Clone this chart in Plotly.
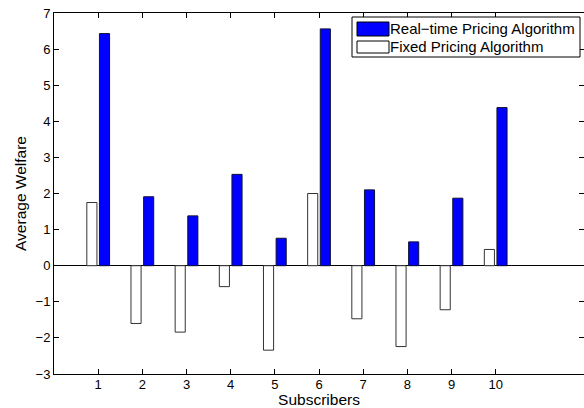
import plotly.graph_objects as go

subscribers = [1, 2, 3, 4, 5, 6, 7, 8, 9, 10]
realtime = [6.43, 1.91, 1.38, 2.53, 0.76, 6.56, 2.10, 0.66, 1.87, 4.38]
fixed = [1.75, -1.60, -1.84, -0.58, -2.34, 2.00, -1.47, -2.24, -1.22, 0.45]
series_names = ["Real\u2212time Pricing Algorithm", "Fixed Pricing Algorithm"]
x_ticks = [1, 2, 3, 4, 5, 6, 7, 8, 9, 10]
y_ticks = [-3, -2, -1, 0, 1, 2, 3, 4, 5, 6, 7]

font_family = "Liberation Sans, Arial, Helvetica, sans-serif"

fig = go.Figure()
fig.add_trace(go.Bar(
    x=subscribers, y=fixed, name=series_names[1],
    width=0.229, offset=-0.257,
    marker=dict(color="white", line=dict(color="#333333", width=1)),
    showlegend=False,
))
fig.add_trace(go.Bar(
    x=subscribers, y=realtime, name=series_names[0],
    width=0.229, offset=0.029,
    marker=dict(color="#0000ff", line=dict(color="#111133", width=1)),
    showlegend=False,
))

W, H = 584, 408
ML, MR, MT, MB = 54, 0, 13, 34
PW, PH = W - ML - MR, H - MT - MB
# paper coordinates are relative to the plot area
def px(x): return (x - ML) / PW
def py(y): return (H - MB - y) / PH

shapes = [
    dict(type="rect", xref="paper", yref="paper", x0=px(352), x1=px(580), y0=py(57), y1=py(17),
         line=dict(color="black", width=1), fillcolor="white", layer="above"),
    dict(type="rect", xref="paper", yref="paper", x0=px(357), x1=px(389), y0=py(36), y1=py(22),
         line=dict(color="black", width=1), fillcolor="#0000ff", layer="above"),
    dict(type="rect", xref="paper", yref="paper", x0=px(357), x1=px(389), y0=py(53), y1=py(41),
         line=dict(color="black", width=1), fillcolor="white", layer="above"),
]
annotations = [
    dict(xref="paper", yref="paper", x=px(389), y=py(28.5), text=series_names[0], showarrow=False,
         xanchor="left", yanchor="middle", borderpad=0,
         font=dict(size=15, color="black", family=font_family)),
    dict(xref="paper", yref="paper", x=px(389), y=py(46.5), text=series_names[1], showarrow=False,
         xanchor="left", yanchor="middle", borderpad=0,
         font=dict(size=15, color="black", family=font_family)),
]

fig.update_layout(
    width=W, height=H,
    margin=dict(l=ML, r=MR, t=MT, b=MB),
    paper_bgcolor="white", plot_bgcolor="white",
    barmode="overlay",
    font=dict(family=font_family, size=13, color="black"),
    shapes=shapes, annotations=annotations,
)
fig.update_xaxes(
    range=[0, 12], tickvals=x_ticks, ticktext=[str(v) for v in x_ticks],
    ticks="inside", ticklen=5, tickcolor="black", mirror="ticks",
    showline=True, linecolor="black", linewidth=1, showgrid=False, zeroline=False,
    ticklabelstandoff=-2,
    title=dict(text="Subscribers", standoff=3, font=dict(size=15.5)),
    tickfont=dict(size=13),
)
fig.update_yaxes(
    range=[-3, 7], tickvals=y_ticks,
    ticks="inside", ticklen=5, tickcolor="black", mirror="ticks",
    showline=True, linecolor="black", linewidth=1, showgrid=False,
    zeroline=True, zerolinecolor="black", zerolinewidth=1,
    title=dict(text="Average Welfare", standoff=5, font=dict(size=15.5)),
    tickfont=dict(size=13),
)

fig.write_html("out.html", config={"displayModeBar": False},
               post_script="document.body.style.margin='0';document.body.style.overflow='hidden';")
